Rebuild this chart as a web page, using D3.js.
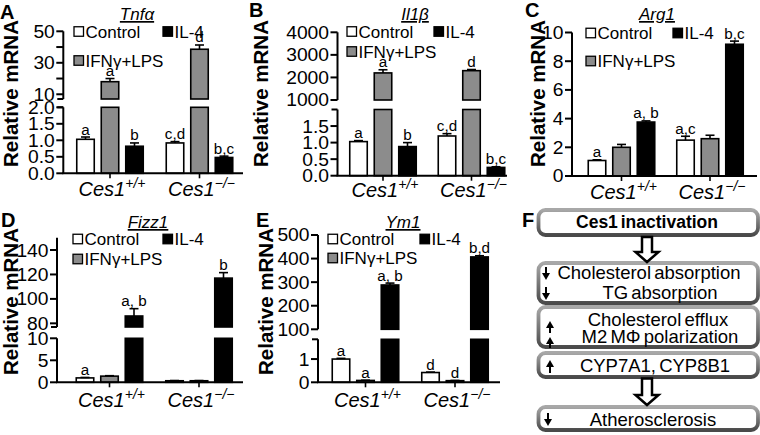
<!DOCTYPE html>
<html>
<head>
<meta charset="utf-8">
<script src="https://cdn.jsdelivr.net/npm/d3@7"></script>
<style>
  html, body { margin: 0; padding: 0; background: #fff; }
  svg { display: block; font-family: "Liberation Sans", Arial, Helvetica, sans-serif; }
</style>
</head>
<body>
<svg id="fig" width="760" height="435"></svg>
<script>
// ---------------- DATA ----------------
const groups = ["Ces1+/+", "Ces1-/-"];
const groupSup = ["+/+", "\u2212/\u2212"];
const treatments = ["Control", "IFN\u03b3+LPS", "IL-4"];
const treatmentFill = ["#ffffff", "#8c8c8c", "#000000"];

// order: [WT Control, WT IFN, WT IL-4, KO Control, KO IFN, KO IL-4]
const tnfaValues  = [1.03, 18, 0.82, 0.92, 38.6, 0.48];
const tnfaErrors  = [0.07, 2.0, 0.10, 0.04, 2.7, 0.04];
const tnfaLetters = ["a", "a", "b", "c,d", "d", "b,c"];
const tnfaLowerTicks = [0, 0.5, 1.0, 1.5, 2.0];
const tnfaUpperTicks = [10, 30, 50];
const tnfaMinorTicks = [20, 40];

const il1bValues  = [1.03, 2200, 0.88, 1.20, 2300, 0.25];
const il1bErrors  = [0.03, 140, 0.12, 0.07, 50, 0.02];
const il1bLetters = ["a", "a", "b", "c,d", "d", "b,c"];
const il1bLowerTicks = [0, 0.5, 1.0, 1.5];
const il1bUpperTicks = [1000, 2000, 3000, 4000];

const arg1Values  = [1.08, 2.0, 3.76, 2.5, 2.6, 9.18];
const arg1Errors  = [0.05, 0.2, 0.08, 0.27, 0.24, 0.22];
const arg1Letters = ["a", "", "a, b", "a,c", "", "b,c"];
const arg1Ticks = [0, 2, 4, 6, 8, 10];

const fizz1Values  = [1.0, 1.4, 86, 0.35, 0.35, 117];
const fizz1Errors  = [0.1, 0.1, 6, 0.05, 0.05, 4.5];
const fizz1Letters = ["a", "", "a, b", "", "", "b"];
const fizz1LowerTicks = [0, 5, 10];
const fizz1UpperTicks = [80, 100, 120, 140];

const ym1Values  = [1.0, 0.08, 288, 0.42, 0.07, 407];
const ym1Errors  = [0.03, 0.01, 8, 0.02, 0.01, 5];
const ym1Letters = ["a", "a", "a, b", "d", "d", "b,d"];
const ym1LowerTicks = [0, 1];
const ym1UpperTicks = [100, 200, 300, 400, 500];

const flowLines = [
  ["Ces1 inactivation"],
  ["Cholesterol absorption", "TG absorption"],
  ["Cholesterol efflux", "M2 M\u03a6 polarization"],
  ["CYP7A1, CYP8B1"],
  ["Atherosclerosis"]
];
const flowArrows = [[], ["down", "down"], ["up", "up"], ["up"], ["down"]];

// ---------------- LAYOUT ----------------
const panels = [
  { letter: "A", title: "Tnf\u03b1", values: tnfaValues, errors: tnfaErrors, letters: tnfaLetters,
    axisX: 63.3, xEnd: 243, centers: [110, 199.5], baseY: 173.3,
    segments: [
      { domain: [0, 2], range: [173.3, 107.3], ticks: tnfaLowerTicks, fmt: ".1f", top: true },
      { domain: [7, 50], range: [99, 31.3], ticks: tnfaUpperTicks, minor: tnfaMinorTicks, fmt: "d", bottom: true }
    ],
    legend: { x: 74, y1: 31.5, y2: 60.5, xIL: 163 }, titlePos: [137, 20], letterPos: [0, 19], ylab: [17.5, 167], xlabY: 196 },
  { letter: "B", title: "Il1\u03b2", values: il1bValues, errors: il1bErrors, letters: il1bLetters,
    axisX: 337.5, xEnd: 507, centers: [383, 471.5], baseY: 175.7,
    segments: [
      { domain: [0, 2], range: [175.7, 109.5], ticks: il1bLowerTicks, fmt: ".1f", top: true },
      { domain: [1000, 4000], range: [100, 32.3], ticks: il1bUpperTicks, fmt: "d" }
    ],
    legend: { x: 347, y1: 31.5, y2: 51.5, xIL: 434 }, titlePos: [415, 20], letterPos: [249, 17], ylab: [268, 167], xlabY: 197 },
  { letter: "C", title: "Arg1", values: arg1Values, errors: arg1Errors, letters: arg1Letters,
    axisX: 572, xEnd: 757, centers: [621.5, 710], baseY: 176,
    segments: [
      { domain: [0, 10], range: [176, 32.5], ticks: arg1Ticks, fmt: "d" }
    ],
    legend: { x: 586, y1: 33, y2: 61, xIL: 673 }, titlePos: [657, 20], letterPos: [525, 17], ylab: [545, 167], xlabY: 199 },
  { letter: "D", title: "Fizz1", values: fizz1Values, errors: fizz1Errors, letters: fizz1Letters,
    axisX: 57, xEnd: 243, centers: [109.5, 199], baseY: 382.3,
    segments: [
      { domain: [0, 10], range: [382.3, 338.3], ticks: fizz1LowerTicks, fmt: "d" },
      { domain: [77, 150], range: [327, 237.8], ticks: fizz1UpperTicks, fmt: "d", bottom: true }
    ],
    legend: { x: 73, y1: 239, y2: 259, xIL: 163 }, titlePos: [148, 228], letterPos: [1, 227], ylab: [18, 375], xlabY: 407 },
  { letter: "E", title: "Ym1", values: ym1Values, errors: ym1Errors, letters: ym1Letters,
    axisX: 318, xEnd: 500, centers: [365.5, 455], baseY: 382.3,
    segments: [
      { domain: [0, 1.85], range: [382.3, 339.3], ticks: ym1LowerTicks, fmt: "d", top: true },
      { domain: [100, 500], range: [329.3, 235], ticks: ym1UpperTicks, fmt: "d" }
    ],
    legend: { x: 328, y1: 239, y2: 258, xIL: 420 }, titlePos: [403, 228], letterPos: [256, 227], ylab: [273, 375], xlabY: 407 }
];

const svg = d3.select("#fig");

function stext(g, x, y, str, o) {
  const t = g.append("text")
    .attr("transform", `translate(${x},${y}) scale(${o.sx || 1},1)`)
    .attr("text-anchor", o.anchor || "start")
    .style("font-size", (o.size || 15) + "px")
    .style("font-weight", o.weight || "normal")
    .style("font-style", o.style || "normal")
    .attr("fill", "#000");
  if (o.dy) t.attr("dy", o.dy);
  t.text(str);
  return t;
}

panels.forEach(p => {
  const g = svg.append("g");
  const outer = d3.scalePoint().domain(groups).range(p.centers);
  const barW = 17.5, step = 24.5;
  const span = 2 * step + barW;
  const inner = d3.scaleBand().domain(treatments).range([-span / 2, span / 2])
    .paddingInner((step - barW) / step).paddingOuter(0);
  p.segments.forEach(s => { s.scale = d3.scaleLinear().domain(s.domain).range(s.range); });

  const segFor = v => {
    for (let i = p.segments.length - 1; i >= 0; i--) {
      if (v >= p.segments[i].domain[0]) return p.segments[i];
    }
    return p.segments[0];
  };

  const recs = [];
  groups.forEach((gr, gi) => treatments.forEach((tr, ti) => {
    const i = gi * 3 + ti;
    recs.push({ gr, tr, ti, v: p.values[i], e: p.errors[i], lab: p.letters[i] });
  }));

  recs.forEach(r => {
    const x = outer(r.gr) + inner(r.tr);
    p.segments.forEach(s => {
      if (r.v <= s.domain[0] && s.domain[0] > 0) return;
      const top = s.scale(Math.min(r.v, s.domain[1]));
      const bot = s.scale(s.domain[0]);
      g.append("rect")
        .attr("x", x).attr("y", top).attr("width", inner.bandwidth()).attr("height", Math.max(0, bot - top))
        .attr("fill", treatmentFill[r.ti]).attr("stroke", "#000").attr("stroke-width", 1.6);
    });
    const s = segFor(r.v);
    const yv = s.scale(r.v), ye = s.scale(r.v + r.e);
    const cx = x + inner.bandwidth() / 2;
    g.append("line").attr("x1", cx).attr("x2", cx).attr("y1", yv).attr("y2", ye)
      .attr("stroke", "#000").attr("stroke-width", 1.6);
    g.append("line").attr("x1", cx - 4.5).attr("x2", cx + 4.5).attr("y1", ye).attr("y2", ye)
      .attr("stroke", "#000").attr("stroke-width", 1.6);
    if (r.lab) stext(g, cx, ye - 2.5, r.lab, { size: 14.5, sx: 1.05, anchor: "middle" });
  });

  // y axis segments
  p.segments.forEach(s => {
    g.append("line").attr("x1", p.axisX).attr("x2", p.axisX)
      .attr("y1", s.range[0]).attr("y2", s.range[1]).attr("stroke", "#000").attr("stroke-width", 2);
    const fmt = d3.format(s.fmt);
    s.ticks.forEach(t => {
      const y = s.scale(t);
      g.append("line").attr("x1", p.axisX - 7).attr("x2", p.axisX).attr("y1", y).attr("y2", y)
        .attr("stroke", "#000").attr("stroke-width", 2);
      stext(g, p.axisX - 8.5, y, fmt(t), { size: 18, sx: 1.07, anchor: "end", dy: "0.36em" });
    });
    (s.minor || []).forEach(t => {
      const y = s.scale(t);
      g.append("line").attr("x1", p.axisX - 7).attr("x2", p.axisX).attr("y1", y).attr("y2", y)
        .attr("stroke", "#000").attr("stroke-width", 2);
    });
    if (s.top) g.append("line").attr("x1", p.axisX - 6).attr("x2", p.axisX)
      .attr("y1", s.range[1]).attr("y2", s.range[1]).attr("stroke", "#000").attr("stroke-width", 2);
    if (s.bottom) g.append("line").attr("x1", p.axisX - 6).attr("x2", p.axisX)
      .attr("y1", s.range[0]).attr("y2", s.range[0]).attr("stroke", "#000").attr("stroke-width", 2);
  });

  // x axis
  g.append("line").attr("x1", p.axisX - 1).attr("x2", p.xEnd).attr("y1", p.baseY).attr("y2", p.baseY)
    .attr("stroke", "#000").attr("stroke-width", 2);
  groups.forEach((gr, gi) => {
    const cx = outer(gr);
    g.append("line").attr("x1", cx).attr("x2", cx).attr("y1", p.baseY).attr("y2", p.baseY + 5)
      .attr("stroke", "#000").attr("stroke-width", 1.6);
    const t = g.append("text").attr("x", cx + 2).attr("y", p.xlabY).attr("text-anchor", "middle")
      .style("font-size", "20px").style("font-style", "italic");
    t.append("tspan").text("Ces1");
    t.append("tspan").attr("dy", -8).style("font-size", "14px").text(groupSup[gi]);
  });

  // legend
  const L = p.legend;
  const items = [
    { x: L.x, y: L.y1, ti: 0 },
    { x: L.xIL, y: L.y1, ti: 2 },
    { x: L.x, y: L.y2, ti: 1 }
  ];
  items.forEach(it => {
    g.append("rect").attr("x", it.x).attr("y", it.y - 4.75).attr("width", 9.5).attr("height", 9.5)
      .attr("fill", treatmentFill[it.ti]).attr("stroke", "#000").attr("stroke-width", 1.3);
    stext(g, it.x + 11.5, it.y, treatments[it.ti], { size: 17, sx: 1.0, dy: "0.36em" });
  });

  // title
  g.append("text").attr("x", p.titlePos[0]).attr("y", p.titlePos[1]).attr("text-anchor", "middle")
    .style("font-size", "17px").style("font-style", "italic").style("text-decoration", "underline")
    .text(p.title);

  // y label
  g.append("text").attr("transform", `translate(${p.ylab[0]},${p.ylab[1]}) rotate(-90)`)
    .attr("text-anchor", "start").style("font-size", "20.5px").style("font-weight", "bold")
    .text("Relative mRNA");

  // panel letter
  g.append("text").attr("x", p.letterPos[0]).attr("y", p.letterPos[1])
    .style("font-size", "20px").style("font-weight", "bold").text(p.letter);
});

// ---------------- PANEL F ----------------
const gf = svg.append("g");
const defs = svg.append("defs");
const grad = defs.append("linearGradient").attr("id", "boxgrad").attr("x1", 0).attr("y1", 0).attr("x2", 0).attr("y2", 1);
grad.append("stop").attr("offset", "0%").attr("stop-color", "#a8a8a8");
grad.append("stop").attr("offset", "100%").attr("stop-color", "#4a4a4a");

const boxY = [[210, 235], [263, 303], [307, 347], [353, 377], [407, 430]];
const boxX = [538.5, 758];
const lineBase = [[228], [279, 298.5], [325.5, 342.5], [372], [426]];
const lineX = [[647], [649, 660], [658, 660], [655], [653]];
const arrowY = [[], [[267, 280], [287, 300]], [[321, 333], [337, 348]], [[360, 373]], [[413, 426]]];
const arrowX = [[], [546, 546], [550, 550], [550], [548]];

gf.append("text").attr("x", 522).attr("y", 227).style("font-size", "20px").style("font-weight", "bold").text("F");

flowLines.forEach((lines, bi) => {
  const [y0, y1] = boxY[bi];
  gf.append("rect").attr("x", boxX[0]).attr("y", y0).attr("width", boxX[1] - boxX[0]).attr("height", y1 - y0)
    .attr("rx", 7).attr("ry", 7).attr("fill", "#fff").attr("stroke", "url(#boxgrad)").attr("stroke-width", 3.8);
  lines.forEach((ln, li) => {
    gf.append("text").attr("x", lineX[bi][li]).attr("y", lineBase[bi][li]).attr("text-anchor", "middle")
      .style("font-size", bi === 0 ? "17.5px" : "18.5px").style("font-weight", bi === 0 ? "bold" : "normal")
      .style("word-spacing", "-2px")
      .text(ln);
  });
  flowArrows[bi].forEach((dir, ai) => {
    const [ya, yb] = arrowY[bi][ai];
    const ax = arrowX[bi][ai];
    const tip = dir === "down" ? yb : ya;
    const tail = dir === "down" ? ya : yb;
    const hb = dir === "down" ? tip - 7 : tip + 7;
    gf.append("line").attr("x1", ax).attr("x2", ax).attr("y1", tail).attr("y2", hb)
      .attr("stroke", "#000").attr("stroke-width", 2);
    gf.append("path").attr("d", `M${ax - 4},${hb} L${ax + 4},${hb} L${ax},${tip} Z`).attr("fill", "#000");
  });
});

// hollow arrows
const bigArrows = [[237, 262], [378.5, 405]];
bigArrows.forEach(([ya, yb]) => {
  const cx = 647, sw = 5, hw = 11.5, hy = yb - 10;
  const d = `M${cx - sw},${ya} L${cx + sw},${ya} L${cx + sw},${hy} L${cx + hw},${hy} L${cx},${yb} L${cx - hw},${hy} L${cx - sw},${hy} Z`;
  gf.append("path").attr("d", d).attr("fill", "#fff").attr("stroke", "#000").attr("stroke-width", 2.5).attr("stroke-linejoin", "miter");
});
</script>
</body>
</html>
